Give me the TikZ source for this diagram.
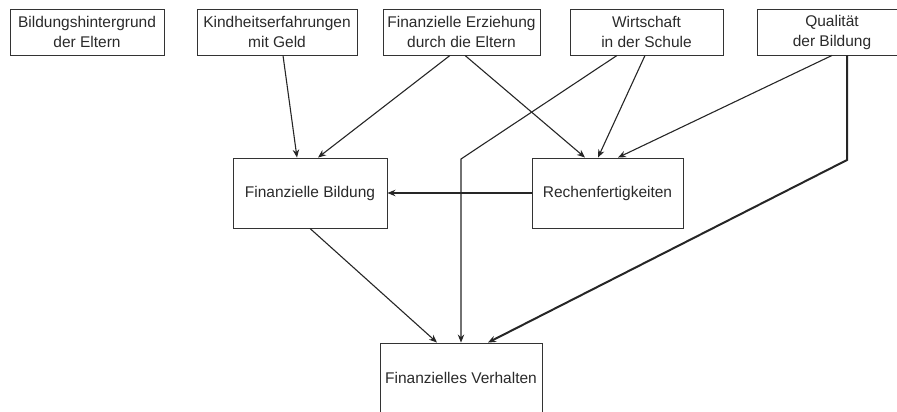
\documentclass[tikz,border=0pt]{standalone}
\usepackage{fontspec}
\setmainfont{Liberation Sans}
\usetikzlibrary{arrows.meta}
\definecolor{rahmen}{HTML}{333333}
\definecolor{schrift}{HTML}{2A2A2A}
\tikzset{faktor/.style={draw=rahmen,line width=0.9pt,text=schrift,align=center,inner sep=0pt,
                        font=\fontsize{15.5}{20}\selectfont,minimum height=46pt},
         ebene/.style={faktor,minimum height=70pt},
         pfeil/.style={draw=black!85,line width=1.1pt,-{Stealth[length=8pt,width=6.5pt]}},
         dick/.style={pfeil,line width=2pt},
        }

\begin{document}
\begin{tikzpicture}[x=1pt,y=-1pt]
        \useasboundingbox (0,0) rectangle (897,412);
        \clip (0,0) rectangle (897,412);
        \node[faktor, minimum width=154pt](bildhint)at(87,32){Bildungshintergrund\\der Eltern};
        \node[faktor, minimum width=160pt](kindheit)at(277,32){Kindheitserfahrungen\\mit Geld};
        \node[faktor, minimum width=157pt](erziehung)at(461.5,32){Finanzielle Erziehung\\durch die Eltern};
        \node[faktor, minimum width=153pt](wirtschaft)at(646.5,32){Wirtschaft\\in der Schule};
        \node[faktor, minimum width=150pt](qualitaet)at(832,32){Qualität\\der Bildung};
        \node[ebene, minimum width=154pt](finbild)at(310,193){Finanzielle Bildung};
        \node[ebene, minimum width=151pt](rechnen)at(607.5,193){Rechenfertigkeiten};
        \node[ebene, minimum width=162pt](verhalten)at(461,378){Finanzielles Verhalten};
        \coordinate(knick1)at(461,159);
        \coordinate(knick2)at(847,160);

        \draw[pfeil]([xshift=6pt]kindheit.south)--([xshift=-13pt]finbild.north);
        \draw[pfeil]([xshift=-11.5pt]erziehung.south)--([xshift=8pt]finbild.north);
        \draw[pfeil]([xshift=3.5pt]erziehung.south)--([xshift=-22.5pt]rechnen.north);
        \draw[pfeil]([xshift=-1.5pt]wirtschaft.south)--([xshift=-9.5pt]rechnen.north);
        \draw[pfeil]([xshift=-29.5pt]wirtschaft.south)--(knick1)--(knick1 |- verhalten.north);
        \draw[pfeil](qualitaet.south)--([xshift=10.5pt]rechnen.north);
        \draw[dick]([xshift=15pt]qualitaet.south)--(knick2)--([xshift=27pt]verhalten.north);
        \draw[dick](rechnen.west)--(finbild.east);
        \draw[pfeil](finbild.south)--([xshift=-24pt]verhalten.north);
    \end{tikzpicture}
\end{document}
